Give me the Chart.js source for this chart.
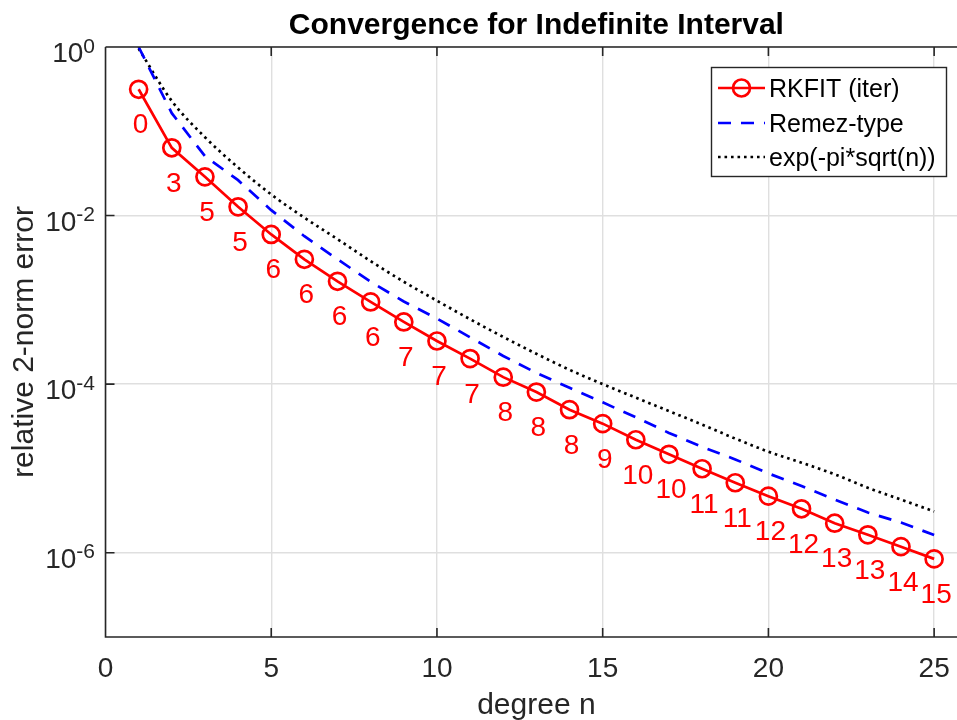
<!DOCTYPE html>
<html>
<head>
<meta charset="utf-8">
<title>Convergence for Indefinite Interval</title>
<script src="https://cdn.jsdelivr.net/npm/chart.js@4.4.1/dist/chart.umd.min.js"></script>
<style>
  html, body { margin: 0; padding: 0; background: #fff; overflow: hidden; }
  canvas { display: block; }
</style>
</head>
<body>
<canvas id="convChart" width="957" height="720"></canvas>
<script>
const degrees = [1, 2, 3, 4, 5, 6, 7, 8, 9, 10, 11, 12, 13, 14, 15, 16, 17, 18, 19, 20, 21, 22, 23, 24, 25];

const rkfitErr = [0.315, 0.0637, 0.0288, 0.0127, 0.00597, 0.00303, 0.00166, 9.45e-4, 5.47e-4, 3.25e-4,
  2.01e-4, 1.21e-4, 8.05e-5, 4.98e-5, 3.40e-5, 2.19e-5, 1.47e-5, 9.91e-6, 6.76e-6, 4.69e-6,
  3.32e-6, 2.24e-6, 1.63e-6, 1.18e-6, 8.45e-7];

const remezErr = [1.0, 0.164, 0.0507, 0.0263, 0.0116, 0.00569, 0.00303, 0.00164, 9.57e-4, 6.0e-4,
  3.6e-4, 2.16e-4, 1.36e-4, 9.04e-5, 6.08e-5, 4.04e-5, 2.64e-5, 1.80e-5, 1.28e-5, 8.72e-6,
  6.19e-6, 4.28e-6, 3.0e-6, 2.28e-6, 1.62e-6];

const expBound = [0.955, 0.229, 0.0851, 0.0372, 0.0178, 0.00944, 0.00525, 0.00288, 0.00164, 9.77e-4,
  5.89e-4, 3.63e-4, 2.29e-4, 1.48e-4, 1.00e-4, 6.92e-5, 4.79e-5, 3.31e-5, 2.26e-5, 1.58e-5,
  1.17e-5, 8.51e-6, 5.89e-6, 4.27e-6, 3.09e-6];

// iteration counts printed under each RKFIT marker
const iterCounts = [0, 3, 5, 5, 6, 6, 6, 6, 7, 7, 7, 8, 8, 8, 9, 10, 10, 11, 11, 12, 12, 13, 13, 14, 15];

const xTicks = [0, 5, 10, 15, 20, 25];
const yTicks = [1e-6, 1e-4, 1e-2, 1];
const yTickExps = ['-6', '-4', '-2', '0'];

const seriesNames = ['RKFIT (iter)', 'Remez-type', 'exp(-pi*sqrt(n))'];

const FONT = '"Liberation Sans", Arial, Helvetica, sans-serif';
const AXIS_COLOR = '#262626';

function toPoints(values) {
  return degrees.map((n, i) => ({ x: n, y: values[i] }));
}

const matlabDecor = {
  id: 'matlabDecor',
  afterDraw(chart) {
    const { ctx, chartArea: area, scales } = chart;
    const xs = scales.x;
    const ys = scales.y;
    ctx.save();

    // iteration labels
    ctx.fillStyle = '#ff0000';
    ctx.font = `28px ${FONT}`;
    ctx.textAlign = 'center';
    ctx.textBaseline = 'alphabetic';
    degrees.forEach((n, i) => {
      const px = xs.getPixelForValue(n);
      const py = ys.getPixelForValue(rkfitErr[i]);
      ctx.fillText(String(iterCounts[i]), px + 2, py + 44);
    });

    // axes box (left, bottom, top) with inward ticks
    ctx.strokeStyle = AXIS_COLOR;
    ctx.lineWidth = 1.6;
    ctx.beginPath();
    ctx.moveTo(area.left, area.top);
    ctx.lineTo(area.left, area.bottom);
    ctx.lineTo(area.right, area.bottom);
    ctx.moveTo(area.left, area.top);
    ctx.lineTo(area.right, area.top);
    xTicks.forEach((v) => {
      const px = xs.getPixelForValue(v);
      ctx.moveTo(px, area.bottom);
      ctx.lineTo(px, area.bottom - 9);
      ctx.moveTo(px, area.top);
      ctx.lineTo(px, area.top + 9);
    });
    yTicks.forEach((v) => {
      const py = ys.getPixelForValue(v);
      ctx.moveTo(area.left, py);
      ctx.lineTo(area.left + 9, py);
    });
    ctx.stroke();

    // x tick labels
    ctx.fillStyle = AXIS_COLOR;
    ctx.font = `28px ${FONT}`;
    ctx.textAlign = 'center';
    xTicks.forEach((v) => {
      ctx.fillText(String(v), xs.getPixelForValue(v), area.bottom + 40);
    });

    // y tick labels as 10^k
    ctx.textAlign = 'left';
    yTicks.forEach((v, i) => {
      const py = ys.getPixelForValue(v);
      ctx.font = `28px ${FONT}`;
      const wBase = ctx.measureText('10').width;
      ctx.font = `21px ${FONT}`;
      const wExp = ctx.measureText(yTickExps[i]).width;
      const start = 95 - wBase - wExp;
      ctx.font = `28px ${FONT}`;
      ctx.fillText('10', start, py + 15);
      ctx.font = `21px ${FONT}`;
      ctx.fillText(yTickExps[i], start + wBase, py + 5.5);
    });

    // axis titles
    const midX = xs.getPixelForValue(13);
    ctx.font = `30px ${FONT}`;
    ctx.textAlign = 'center';
    ctx.fillText('degree n', midX, 714);
    ctx.save();
    ctx.translate(33, (area.top + area.bottom) / 2);
    ctx.rotate(-Math.PI / 2);
    ctx.fillText('relative 2-norm error', 0, 0);
    ctx.restore();

    // title
    ctx.fillStyle = '#000';
    ctx.font = `bold 30px ${FONT}`;
    ctx.fillText('Convergence for Indefinite Interval', midX, 33.5);

    // legend
    const box = { x: 711.5, y: 67.5, w: 235, h: 109 };
    ctx.fillStyle = '#fff';
    ctx.fillRect(box.x, box.y, box.w, box.h);
    ctx.strokeStyle = AXIS_COLOR;
    ctx.lineWidth = 1.4;
    ctx.strokeRect(box.x, box.y, box.w, box.h);
    const rows = [88, 123, 157];
    const styles = chart.data.datasets;
    rows.forEach((ry, i) => {
      const ds = styles[i];
      ctx.save();
      ctx.strokeStyle = ds.borderColor;
      ctx.lineWidth = ds.borderWidth;
      ctx.setLineDash(ds.borderDash || []);
      ctx.beginPath();
      ctx.moveTo(718, ry);
      ctx.lineTo(765, ry);
      ctx.stroke();
      if (ds.pointRadius > 0) {
        ctx.setLineDash([]);
        ctx.lineWidth = ds.pointBorderWidth;
        ctx.beginPath();
        ctx.arc(741.5, ry, ds.pointRadius, 0, Math.PI * 2);
        ctx.stroke();
      }
      ctx.restore();
      ctx.fillStyle = '#000';
      ctx.font = `25px ${FONT}`;
      ctx.textAlign = 'left';
      ctx.fillText(seriesNames[i], 769, ry + 9);
    });

    ctx.restore();
  }
};

const canvas = document.getElementById('convChart');
new Chart(canvas.getContext('2d'), {
  type: 'line',
  data: {
    datasets: [
      {
        label: seriesNames[0],
        data: toPoints(rkfitErr),
        borderColor: '#ff0000',
        borderWidth: 2.7,
        pointRadius: 8.5,
        pointBorderWidth: 2.7,
        pointBorderColor: '#ff0000',
        pointBackgroundColor: 'rgba(0,0,0,0)',
        fill: false
      },
      {
        label: seriesNames[1],
        data: toPoints(remezErr),
        borderColor: '#0000ff',
        borderWidth: 2.7,
        borderDash: [13, 10],
        pointRadius: 0,
        fill: false
      },
      {
        label: seriesNames[2],
        data: toPoints(expBound),
        borderColor: '#000000',
        borderWidth: 2.7,
        borderDash: [2.6, 3.9],
        cubicInterpolationMode: 'monotone',
        pointRadius: 0,
        fill: false
      }
    ]
  },
  options: {
    responsive: false,
    animation: false,
    events: [],
    layout: {
      autoPadding: false,
      padding: { left: 105.5, top: 47, right: 0, bottom: 83 }
    },
    plugins: {
      legend: { display: false },
      title: { display: false },
      tooltip: { enabled: false }
    },
    scales: {
      x: {
        type: 'linear',
        min: 0,
        max: 25.69,
        afterBuildTicks: (scale) => { scale.ticks = xTicks.map((v) => ({ value: v })); },
        ticks: { display: false },
        border: { display: false },
        grid: { color: '#dfdfdf', lineWidth: 1.4, drawTicks: false }
      },
      y: {
        type: 'logarithmic',
        min: 1e-7,
        max: 1,
        afterBuildTicks: (scale) => { scale.ticks = yTicks.map((v) => ({ value: v })); },
        ticks: { display: false },
        border: { display: false },
        grid: { color: '#dfdfdf', lineWidth: 1.4, drawTicks: false }
      }
    }
  },
  plugins: [matlabDecor]
});
</script>
</body>
</html>
